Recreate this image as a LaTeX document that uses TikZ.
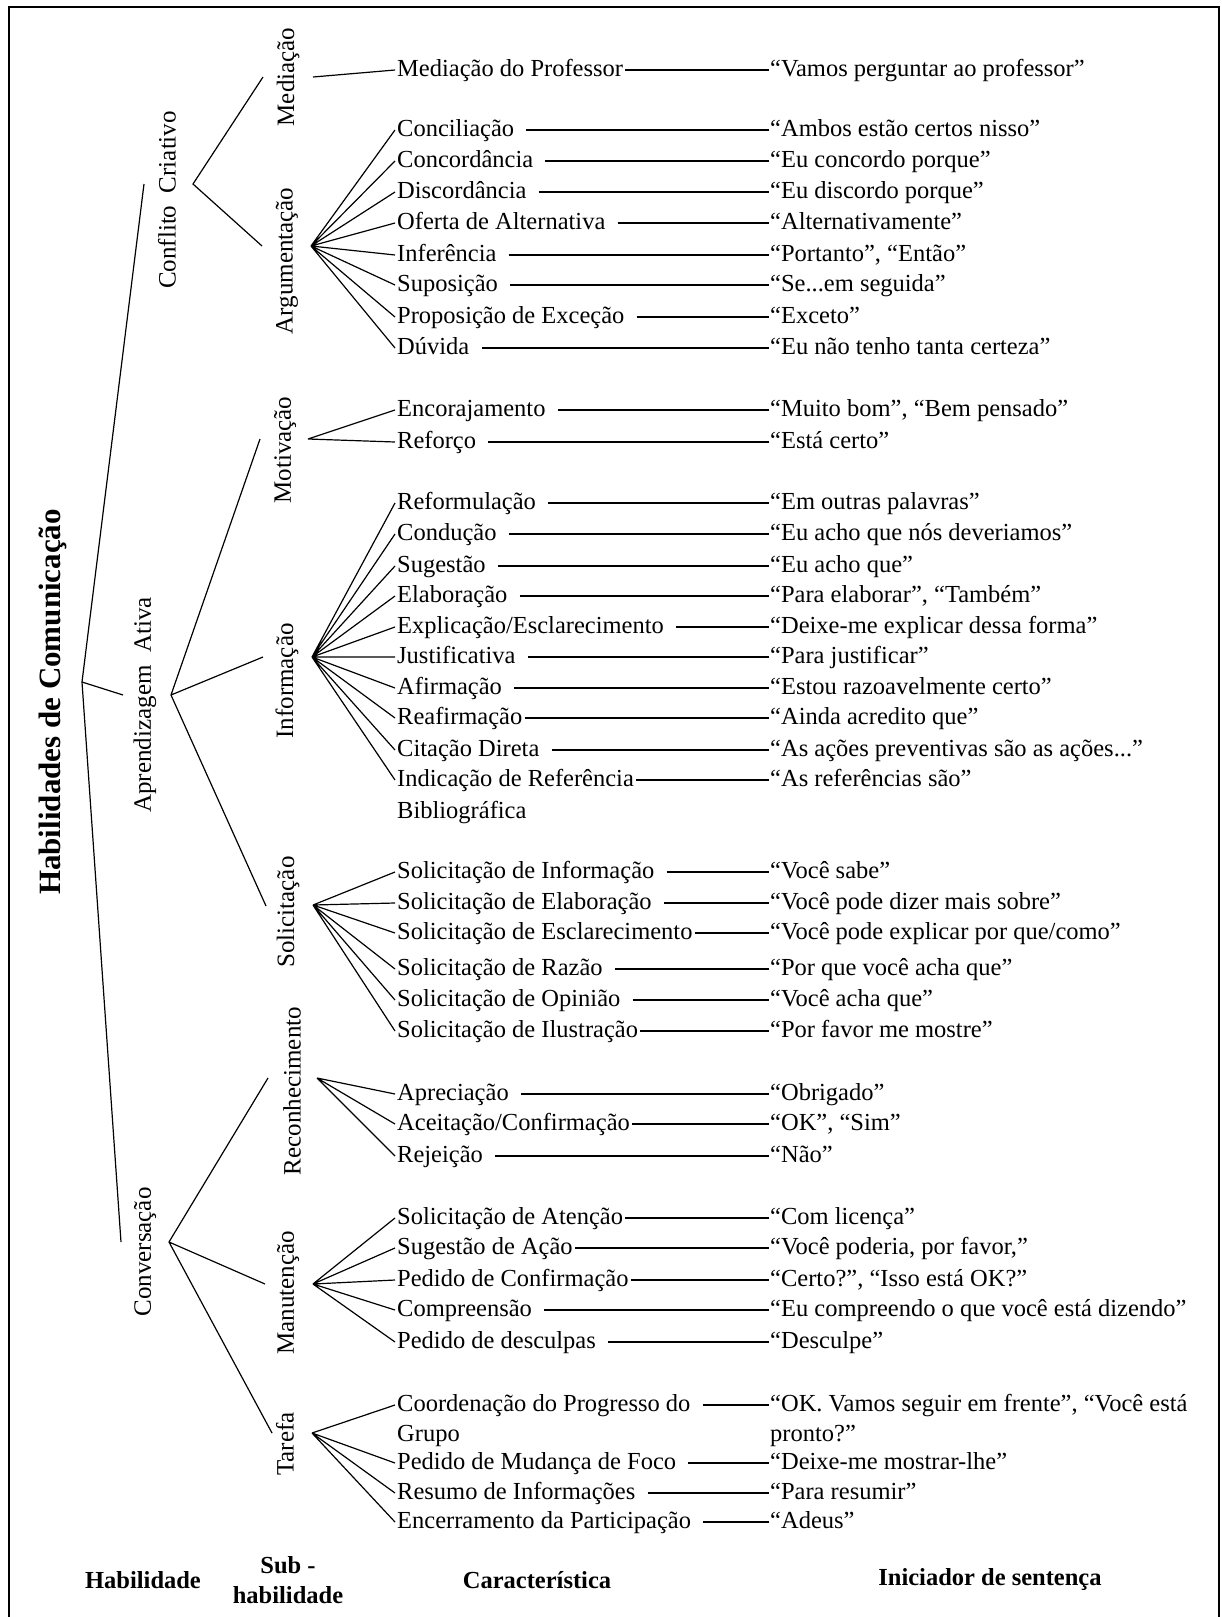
\documentclass[tikz,border=0pt]{standalone}
\usepackage{fontspec}
\setmainfont{Liberation Serif}
\usepackage{tikz}
\usetikzlibrary{positioning,calc}

\newcommand{\featfont}{\fontsize{24.5}{30}\selectfont}
\newcommand{\skillfont}{\fontsize{25}{30}\selectfont}
\newcommand{\titlefont}{\fontsize{31}{36}\selectfont\bfseries}

\begin{document}
\begin{tikzpicture}[x=1pt,y=-1pt,
    feature/.style={anchor=west,inner xsep=2pt,inner ysep=0pt,text height=17pt,text depth=5pt,font=\featfont},
    starter/.style={anchor=west,inner xsep=1pt,inner ysep=0pt,text height=17pt,text depth=5pt,font=\featfont},
    skill/.style={rotate=90,inner sep=0pt,font=\skillfont},
    header/.style={align=center,font=\featfont\bfseries},
    link/.style={line width=1.2pt},
    spaced/.style={link,shorten <=10pt}]
    \useasboundingbox (0,0) rectangle (1222,1617);
    \draw[line width=2.2pt] (9,1617) -- (9,7) -- (1219,7) -- (1219,1617);

    % skills and sub-skills
    \node[rotate=90,font=\titlefont] (hab) at (53,702) {Habilidades de Comunicação};
    \node[skill] (cc) at (167,200) {Conflito\ \ Criativo};
    \node[skill] (aa) at (145,705) {Aprendizagem\ \ Ativa};
    \node[skill] (cv) at (145,1252) {Conversação};
    \node[skill] (med) at (288,77) {Mediação};
    \node[skill] (arg) at (287,261) {Argumentação};
    \node[skill] (mot) at (285,450) {Motivação};
    \node[skill] (inf) at (287,681) {Informação};
    \node[skill] (sol) at (288,912) {Solicitação};
    \node[skill] (rec) at (292,1091) {Reconhecimento};
    \node[skill] (man) at (288,1293) {Manutenção};
    \node[skill] (tar) at (285,1444) {Tarefa};

    \coordinate (habout) at (82,682);
    \coordinate (ccin) at (144,184);   \coordinate (ccout) at (193,184);
    \coordinate (aain) at (123,695);   \coordinate (aaout) at (171,695);
    \coordinate (cvin) at (121,1242);  \coordinate (cvout) at (169,1242);
    \coordinate (medin) at (263,77);   \coordinate (medout) at (313,77);
    \coordinate (argin) at (262,246);  \coordinate (argout) at (311,246);
    \coordinate (motin) at (260,439);  \coordinate (motout) at (308,439);
    \coordinate (infin) at (263,657);  \coordinate (infout) at (312,657);
    \coordinate (solin) at (266,906);  \coordinate (solout) at (313,905);
    \coordinate (recin) at (268,1078); \coordinate (recout) at (317,1078);
    \coordinate (manin) at (265,1284); \coordinate (manout) at (313,1284);
    \coordinate (tarin) at (272,1433); \coordinate (tarout) at (312,1433);

    % characteristics and sentence openers
    \node[feature] (prof) at (395,70) {Mediação do Professor};
    \node[starter] (profq) at (769,70) {“Vamos perguntar ao professor”};

    \node[feature] (conc) at (395,130) {Conciliação};
    \node[starter] (concq) at (769,130) {“Ambos estão certos nisso”};
    \node[feature] (concd) at (395,161) {Concordância};
    \node[starter] (concdq) at (769,161) {“Eu concordo porque”};
    \node[feature] (disc) at (395,192) {Discordância};
    \node[starter] (discq) at (769,192) {“Eu discordo porque”};
    \node[feature] (ofer) at (395,223) {Oferta de Alternativa};
    \node[starter] (oferq) at (769,223) {“Alternativamente”};
    \node[feature] (infe) at (395,255) {Inferência};
    \node[starter] (infeq) at (769,255) {“Portanto”, “Então”};
    \node[feature] (supo) at (395,285) {Suposição};
    \node[starter] (supoq) at (769,285) {“Se...em seguida”};
    \node[feature] (prop) at (395,317) {Proposição de Exceção};
    \node[starter] (propq) at (769,317) {“Exceto”};
    \node[feature] (duvi) at (395,348) {Dúvida};
    \node[starter] (duviq) at (769,348) {“Eu não tenho tanta certeza”};

    \node[feature] (enco) at (395,410) {Encorajamento};
    \node[starter] (encoq) at (769,410) {“Muito bom”, “Bem pensado”};
    \node[feature] (refo) at (395,442) {Reforço};
    \node[starter] (refoq) at (769,442) {“Está certo”};

    \node[feature] (refm) at (395,503) {Reformulação};
    \node[starter] (refmq) at (769,503) {“Em outras palavras”};
    \node[feature] (cond) at (395,534) {Condução};
    \node[starter] (condq) at (769,534) {“Eu acho que nós deveriamos”};
    \node[feature] (suge) at (395,566) {Sugestão};
    \node[starter] (sugeq) at (769,566) {“Eu acho que”};
    \node[feature] (elab) at (395,596) {Elaboração};
    \node[starter] (elabq) at (769,596) {“Para elaborar”, “Também”};
    \node[feature] (expl) at (395,627) {Explicação/Esclarecimento};
    \node[starter] (explq) at (769,627) {“Deixe-me explicar dessa forma”};
    \node[feature] (just) at (395,657) {Justificativa};
    \node[starter] (justq) at (769,657) {“Para justificar”};
    \node[feature] (afir) at (395,688) {Afirmação};
    \node[starter] (afirq) at (769,688) {“Estou razoavelmente certo”};
    \node[feature] (reaf) at (395,718) {Reafirmação};
    \node[starter] (reafq) at (769,718) {“Ainda acredito que”};
    \node[feature] (cita) at (395,750) {Citação Direta};
    \node[starter] (citaq) at (769,750) {“As ações preventivas são as ações...”};
    \node[feature] (indi) at (395,780) {Indicação de Referência};
    \node[starter] (indiq) at (769,780) {“As referências são”};
    \node[feature] (indib) at (395,812) {Bibliográfica};

    \node[feature] (sinf) at (395,872) {Solicitação de Informação};
    \node[starter] (sinfq) at (769,872) {“Você sabe”};
    \node[feature] (sela) at (395,903) {Solicitação de Elaboração};
    \node[starter] (selaq) at (769,903) {“Você pode dizer mais sobre”};
    \node[feature] (sesc) at (395,933) {Solicitação de Esclarecimento};
    \node[starter] (sescq) at (769,933) {“Você pode explicar por que/como”};
    \node[feature] (sraz) at (395,969) {Solicitação de Razão};
    \node[starter] (srazq) at (769,969) {“Por que você acha que”};
    \node[feature] (sopi) at (395,1000) {Solicitação de Opinião};
    \node[starter] (sopiq) at (769,1000) {“Você acha que”};
    \node[feature] (silu) at (395,1031) {Solicitação de Ilustração};
    \node[starter] (siluq) at (769,1031) {“Por favor me mostre”};

    \node[feature] (apre) at (395,1094) {Apreciação};
    \node[starter] (apreq) at (769,1094) {“Obrigado”};
    \node[feature] (acei) at (395,1124) {Aceitação/Confirmação};
    \node[starter] (aceiq) at (769,1124) {“OK”, “Sim”};
    \node[feature] (reje) at (395,1156) {Rejeição};
    \node[starter] (rejeq) at (769,1156) {“Não”};

    \node[feature] (aten) at (395,1218) {Solicitação de Atenção};
    \node[starter] (atenq) at (769,1218) {“Com licença”};
    \node[feature] (acao) at (395,1248) {Sugestão de Ação};
    \node[starter] (acaoq) at (769,1248) {“Você poderia, por favor,”};
    \node[feature] (pcon) at (395,1280) {Pedido de Confirmação};
    \node[starter] (pconq) at (769,1280) {“Certo?”, “Isso está OK?”};
    \node[feature] (comp) at (395,1310) {Compreensão};
    \node[starter] (compq) at (769,1310) {“Eu compreendo o que você está dizendo”};
    \node[feature] (desc) at (395,1342) {Pedido de desculpas};
    \node[starter] (descq) at (769,1342) {“Desculpe”};

    \node[feature] (coor) at (395,1405) {Coordenação do Progresso do};
    \node[starter] (coorq) at (769,1405) {“OK. Vamos seguir em frente”, “Você está};
    \node[feature] (coorb) at (395,1435) {Grupo};
    \node[starter] (coorqb) at (769,1435) {pronto?”};
    \node[feature] (foco) at (395,1463) {Pedido de Mudança de Foco};
    \node[starter] (focoq) at (769,1463) {“Deixe-me mostrar-lhe”};
    \node[feature] (resu) at (395,1493) {Resumo de Informações};
    \node[starter] (resuq) at (769,1493) {“Para resumir”};
    \node[feature] (ence) at (395,1522) {Encerramento da Participação};
    \node[starter] (enceq) at (769,1522) {“Adeus”};

    % column headers
    \node[header] (hhab) at (143,1580) {Habilidade};
    \node[header] (hsub) at (288,1580) {Sub -\\habilidade};
    \node[header] (hcar) at (537,1580) {Característica};
    \node[header] (hini) at (990,1580) {Iniciador de sentença};

    % tree
    \draw[link] (ccin) -- (habout) -- (cvin) (habout) -- (aain);
    \draw[link] (medin) -- (ccout) -- (argin);
    \draw[link] (motin) -- (aaout) -- (solin) (aaout) -- (infin);
    \draw[link] (recin) -- (cvout) -- (tarin) (cvout) -- (manin);

    \draw[link] (medout) -- (prof.west);
    \draw[link] (argout) -- (conc.west) (argout) -- (concd.west) (argout) -- (disc.west)
        (argout) -- (ofer.west) (argout) -- (infe.west) (argout) -- (supo.west)
        (argout) -- (prop.west) (argout) -- (duvi.west);
    \draw[link] (motout) -- (enco.west) (motout) -- (refo.west);
    \draw[link] (infout) -- (refm.west) (infout) -- (cond.west) (infout) -- (suge.west)
        (infout) -- (elab.west) (infout) -- (expl.west) (infout) -- (just.west)
        (infout) -- (afir.west) (infout) -- (reaf.west) (infout) -- (cita.west)
        (infout) -- (indi.west);
    \draw[link] (solout) -- (sinf.west) (solout) -- (sela.west) (solout) -- (sesc.west)
        (solout) -- (sraz.west) (solout) -- (sopi.west) (solout) -- (silu.west);
    \draw[link] (recout) -- (apre.west) (recout) -- (acei.west) (recout) -- (reje.west);
    \draw[link] (manout) -- (aten.west) (manout) -- (acao.west) (manout) -- (pcon.west)
        (manout) -- (comp.west) (manout) -- (desc.west);
    \draw[link] (tarout) -- (coor.west) (tarout) -- (foco.west) (tarout) -- (resu.west)
        (tarout) -- (ence.west);

    % characteristic to sentence opener
    \draw[link] (prof) -- (profq);
    \draw[spaced] (conc) -- (concq);
    \draw[spaced] (concd) -- (concdq);
    \draw[spaced] (disc) -- (discq);
    \draw[spaced] (ofer) -- (oferq);
    \draw[spaced] (infe) -- (infeq);
    \draw[spaced] (supo) -- (supoq);
    \draw[spaced] (prop) -- (propq);
    \draw[spaced] (duvi) -- (duviq);
    \draw[spaced] (enco) -- (encoq);
    \draw[spaced] (refo) -- (refoq);
    \draw[spaced] (refm) -- (refmq);
    \draw[spaced] (cond) -- (condq);
    \draw[spaced] (suge) -- (sugeq);
    \draw[spaced] (elab) -- (elabq);
    \draw[spaced] (expl) -- (explq);
    \draw[spaced] (just) -- (justq);
    \draw[spaced] (afir) -- (afirq);
    \draw[link] (reaf) -- (reafq);
    \draw[spaced] (cita) -- (citaq);
    \draw[link] (indi) -- (indiq);
    \draw[spaced] (sinf) -- (sinfq);
    \draw[spaced] (sela) -- (selaq);
    \draw[link] (sesc) -- (sescq);
    \draw[spaced] (sraz) -- (srazq);
    \draw[spaced] (sopi) -- (sopiq);
    \draw[link] (silu) -- (siluq);
    \draw[spaced] (apre) -- (apreq);
    \draw[link] (acei) -- (aceiq);
    \draw[spaced] (reje) -- (rejeq);
    \draw[link] (aten) -- (atenq);
    \draw[link] (acao) -- (acaoq);
    \draw[link] (pcon) -- (pconq);
    \draw[spaced] (comp) -- (compq);
    \draw[spaced] (desc) -- (descq);
    \draw[spaced] (coor) -- (coorq);
    \draw[spaced] (foco) -- (focoq);
    \draw[spaced] (resu) -- (resuq);
    \draw[spaced] (ence) -- (enceq);
\end{tikzpicture}
\end{document}
